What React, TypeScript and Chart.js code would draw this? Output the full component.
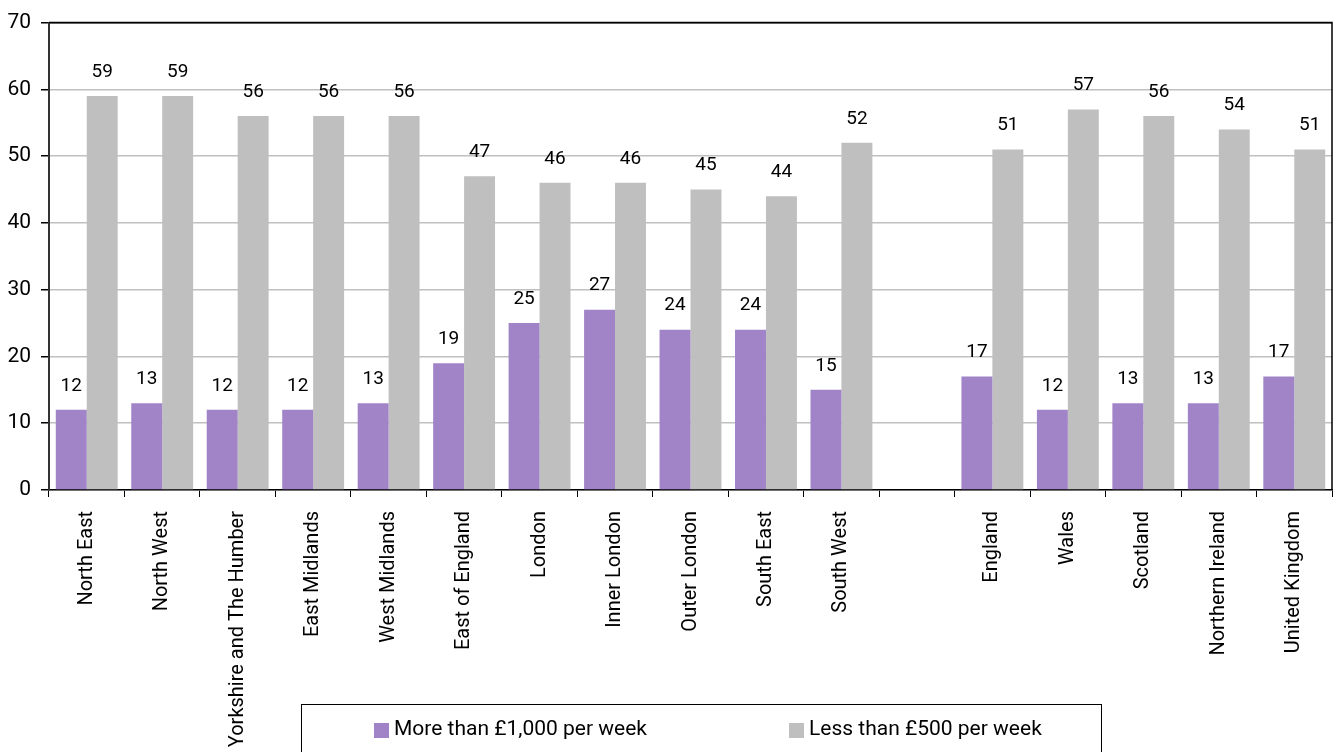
import React, { useEffect, useRef } from "react";
import { Chart, registerables } from "chart.js";

Chart.register(...registerables);

const categories = [
  "North East", "North West", "Yorkshire and The Humber", "East Midlands", "West Midlands",
  "East of England", "London", "Inner London", "Outer London", "South East", "South West",
  "", "England", "Wales", "Scotland", "Northern Ireland", "United Kingdom",
];
const moreThan1000 = [12, 13, 12, 12, 13, 19, 25, 27, 24, 24, 15, null, 17, 12, 13, 13, 17];
const lessThan500 = [59, 59, 56, 56, 56, 47, 46, 46, 45, 44, 52, null, 51, 57, 56, 54, 51];
const seriesNames = ["More than £1,000 per week", "Less than £500 per week"];
const yTicks = [0, 10, 20, 30, 40, 50, 60, 70];

const PURPLE = "#A084C7";
const GRAY = "#BFBFBF";
const FONT = "Roboto";

const decorPlugin = {
  id: "decor",
  afterDatasetsDraw(chart: any) {
    const ctx = chart.ctx;
    ctx.save();
    ctx.fillStyle = "#000";
    ctx.font = `19px ${FONT}`;
    ctx.textAlign = "center";
    ctx.textBaseline = "middle";
    chart.data.datasets.forEach((ds: any, di: number) => {
      const meta = chart.getDatasetMeta(di);
      meta.data.forEach((bar: any, i: number) => {
        const v = ds.data[i];
        if (v === null || v === undefined) return;
        ctx.fillText(String(v), bar.x, bar.y - 24);
      });
    });
    ctx.restore();
  },
  afterDraw(chart: any) {
    const ctx = chart.ctx;
    const a = chart.chartArea;
    ctx.save();
    ctx.strokeStyle = "#000";
    ctx.lineWidth = 1.5;
    ctx.beginPath();
    ctx.moveTo(a.left, a.top);
    ctx.lineTo(a.right, a.top);
    ctx.lineTo(a.right, a.bottom);
    ctx.stroke();
    // legend box
    const bx = 301.5, by = 704.5, bw = 800, bh = 60;
    ctx.lineWidth = 1;
    ctx.strokeStyle = "#000";
    ctx.strokeRect(bx, by, bw, bh);
    const items = [
      { x: 374, color: PURPLE, label: seriesNames[0] },
      { x: 789, color: GRAY, label: seriesNames[1] },
    ];
    ctx.font = `21px ${FONT}`;
    ctx.textAlign = "left";
    ctx.textBaseline = "middle";
    items.forEach((it) => {
      ctx.fillStyle = it.color;
      ctx.fillRect(it.x, 723, 15, 15);
      ctx.fillStyle = "#000";
      ctx.fillText(it.label, it.x + 20, 730);
    });
    ctx.restore();
  },
};

export default function App() {
  const ref = useRef<HTMLCanvasElement | null>(null);
  useEffect(() => {
    if (!ref.current) return;
    const chart = new Chart(ref.current, {
      type: "bar",
      data: {
        labels: categories,
        datasets: [
          { label: seriesNames[0], data: moreThan1000 as any, backgroundColor: PURPLE, categoryPercentage: 0.82, barPercentage: 1 },
          { label: seriesNames[1], data: lessThan500 as any, backgroundColor: GRAY, categoryPercentage: 0.82, barPercentage: 1 },
        ],
      },
      options: {
        animation: false,
        responsive: false,
        maintainAspectRatio: false,
        layout: { padding: { top: 20, right: 4, left: 0, bottom: 0 } },
        plugins: { legend: { display: false }, tooltip: { enabled: false } },
        scales: {
          x: {
            grid: { display: true, drawOnChartArea: false, drawTicks: true, tickLength: 7, color: "#000", offset: true },
            border: { display: true, color: "#000", width: 1.5 },
            ticks: {
              autoSkip: false, maxRotation: 90, minRotation: 90, padding: 14,
              color: "#000", font: { family: FONT, size: 20 },
            },
            afterFit(scale: any) { scale.height = 262; },
          },
          y: {
            min: 0, max: 70,
            afterBuildTicks(scale: any) { scale.ticks = yTicks.map((v) => ({ value: v })); },
            grid: {
              color: (c: any) => (c.tick && c.tick.value === 70 ? "#000" : "#C0C0C0"),
              lineWidth: 1.5, tickLength: 8, drawTicks: true, tickColor: "#000",
            },
            border: { display: true, color: "#333", width: 2 },
            ticks: { padding: 10, color: "#000", font: { family: FONT, size: 21 } },
            afterFit(scale: any) { scale.width = 49; },
          },
        },
      },
      plugins: [decorPlugin],
    });
    return () => chart.destroy();
  }, []);
  return (
    <div style={{ position: "fixed", left: 0, top: 0, width: 1336, height: 752, background: "#fff" }}>
      <canvas ref={ref} width={1336} height={752} style={{ display: "block" }} />
    </div>
  );
}
